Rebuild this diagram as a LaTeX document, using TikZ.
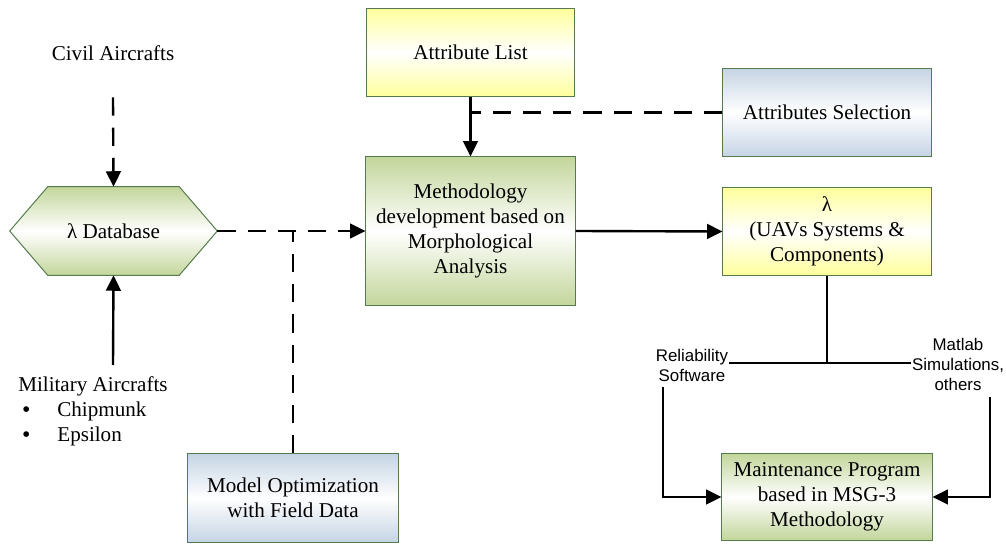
\documentclass[tikz,border=0pt]{standalone}
\usepackage{fontspec}
\setmainfont{Liberation Serif}
\newfontfamily\labelfont{Liberation Sans}
\usetikzlibrary{
    arrows.meta,
    positioning,
    calc,
    backgrounds
}

\definecolor{boxgreen}{HTML}{C3D69B}
\definecolor{boxyellow}{HTML}{FFFF9C}
\definecolor{boxblue}{HTML}{C5D4E4}
\definecolor{boxedge}{HTML}{557A4C}

\newcommand{\bigbullet}{\raisebox{-0.6pt}[0pt][0pt]{\fontsize{17}{17}\selectfont •}}

\begin{document}
\begin{tikzpicture}[
    x=0.025cm, y=-0.025cm,
    every node/.style={font=\fontsize{15}{17.8}\selectfont},
    box/.style={rectangle, draw=boxedge, line width=0.7pt, align=center,
                inner sep=2pt, minimum width=5.2cm, minimum height=2.2cm},
    greenbox/.style={box, top color=boxgreen, bottom color=boxgreen, middle color=white},
    yellowbox/.style={box, top color=boxyellow, bottom color=boxyellow, middle color=white},
    bluebox/.style={box, top color=boxblue, bottom color=boxblue, middle color=white},
    hexbox/.style={draw=boxedge, line width=0.7pt,
                   top color=boxgreen, bottom color=boxgreen, middle color=white},
    swlabel/.style={font=\labelfont\fontsize{12}{14.2}\selectfont, align=center, inner sep=0.5pt},
    arrow/.style={-{Triangle[length=11pt,width=10.5pt]}, line width=1.7pt},
    dashline/.style={line width=1.7pt, dash pattern=on 13pt off 8.5pt},
    dasharrow/.style={dashline, -{Triangle[length=11pt,width=10.5pt]}}
]
    \useasboundingbox (0,0) rectangle (1006,544);

    % Sources
    \node (civil) [minimum height=2.2cm] at (113,53) {Civil Aircrafts};
    \node (military) [anchor=north west, align=left, inner sep=0pt] at (18,376) {
        Military Aircrafts\\
        \hspace*{2.8pt}\makebox[25pt][l]{\bigbullet}Chipmunk\\
        \hspace*{2.8pt}\makebox[25pt][l]{\bigbullet}Epsilon
    };
    \coordinate (milTop) at (113,365);

    % Database
    \node (db) [minimum width=5.175cm, minimum height=2.2cm] at (113.5,231) {λ Database};
    \begin{scope}[on background layer]
        \draw [hexbox] (db.west) -- ([xshift=0.95cm]db.north west)
            -- ([xshift=-0.95cm]db.north east) -- (db.east)
            -- ([xshift=-0.95cm]db.south east) -- ([xshift=0.95cm]db.south west) -- cycle;
    \end{scope}

    % Boxes
    \node (attr) [yellowbox, minimum width=5.175cm] at (470.5,52.5) {Attribute List};
    \node (select) [bluebox] at (827,112.5) {Attributes Selection};
    \node (method) [greenbox, minimum width=5.225cm, minimum height=3.7cm] at (470.5,231) {
        Methodology\\ development based on\\ Morphological\\ Analysis
    };
    \node (lambda) [yellowbox] at (827,231.5) {λ\\ (UAVs Systems \&\\ Components)};
    \node (model) [bluebox, minimum width=5.25cm] at (293,498) {
        Model Optimization\\ with Field Data
    };
    \node (maint) [greenbox, minimum width=5.25cm, minimum height=2.15cm] at (827,497) {
        Maintenance Program\\ based in MSG-3\\ Methodology
    };

    % Software labels
    \node (rel) [swlabel] at (692,365) {Reliability\\ Software};
    \node (matlab) [swlabel] at (958,364) {Matlab\\ Simulations,\\ others};
    \coordinate (split) at (827,363);
    \coordinate (relFoot) at (663,387);
    \coordinate (matFoot) at (990,397);

    % Connections
    \draw [dasharrow] (civil.south) -- (db.north);
    \draw [arrow] (milTop) -- (db.south);
    \draw [dasharrow] (db.east) -- (method.west);
    \draw [dashline] (model.north) -- (model.north |- db.east);
    \draw [arrow] (attr.south) -- (method.north);
    \draw [dashline] (select.west) -- (select.west -| attr.south);
    \draw [arrow] (method.east) -- (lambda.west);
    \draw [line width=1.7pt] (lambda.south) -- (split);
    \draw [line width=1.7pt] (rel.east |- split) -- (matlab.west |- split);
    \draw [arrow] (relFoot) |- (maint.west);
    \draw [arrow] (matFoot) |- (maint.east);

\end{tikzpicture}
\end{document}
